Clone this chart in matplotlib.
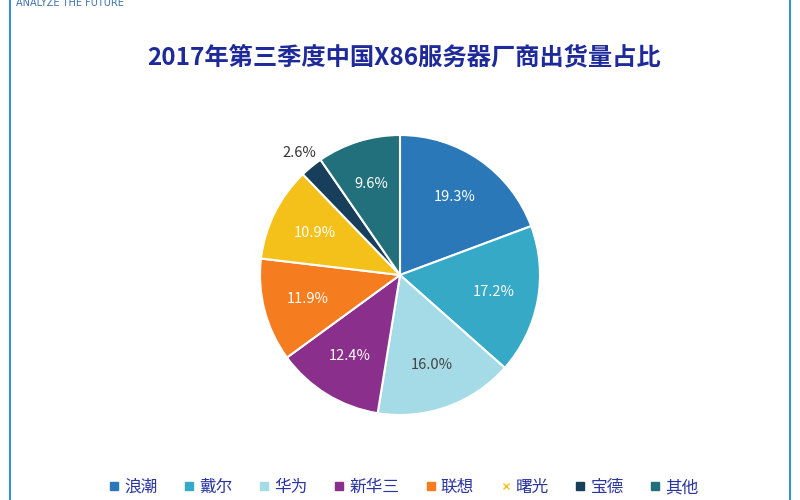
import numpy as np
import matplotlib.pyplot as plt
from matplotlib.lines import Line2D

plt.rcParams['font.family'] = 'sans-serif'
plt.rcParams['font.sans-serif'] = ['Noto Sans CJK SC', 'Noto Sans CJK JP', 'DejaVu Sans']

vendors = ['浪潮', '戴尔', '华为', '新华三', '联想', '曙光', '宝德', '其他']
shares = [19.3, 17.2, 16.0, 12.4, 11.9, 10.9, 2.6, 9.6]
colors = ['#2a78b8', '#35a9c6', '#a5dbe6', '#8b2f8c', '#f57c1f', '#f4c01a', '#173e5a', '#21707c']

fig = plt.figure(figsize=(8, 5), dpi=100)
fig.patch.set_facecolor('white')

# frame lines at left/right edge
fig.add_artist(Line2D([0.012, 0.012], [0, 1], color='#3a8fd0', lw=1.5))
fig.add_artist(Line2D([0.988, 0.988], [0, 1], color='#3a8fd0', lw=1.5))
fig.text(0.02, 0.993, 'ANALYZE THE FUTURE', color='#3a70b0', fontsize=7, va='center',
         family='DejaVu Sans')

fig.text(0.505, 0.885, '2017年第三季度中国X86服务器厂商出货量占比', ha='center', va='center',
         fontsize=17.5, fontweight='bold', color='#1f2a9a')

ax = fig.add_axes([0.5 - 0.219, 0.45 - 0.35, 0.438, 0.70])
wedges, texts = ax.pie(shares, colors=colors, startangle=90, counterclock=False,
                       wedgeprops=dict(edgecolor='white', linewidth=1.5))
ax.set_aspect('equal')
for i, w in enumerate(wedges):
    ang = np.deg2rad((w.theta1 + w.theta2) / 2)
    r = 1.13 if shares[i] < 5 else 0.68
    c = '#333333' if shares[i] < 5 else ('#444444' if colors[i] == '#a5dbe6' else 'white')
    ax.text(r * np.cos(ang), r * np.sin(ang), f'{shares[i]}%', ha='center', va='center',
            fontsize=10.5, color=c)

handles = []
for v, c in zip(vendors, colors):
    if v == '曙光':
        handles.append(Line2D([], [], marker='x', ls='', color=c, markersize=5, label=v))
    else:
        handles.append(Line2D([], [], marker='s', ls='', color=c, markersize=6, label=v))
fig.legend(handles=handles, loc='center', bbox_to_anchor=(0.505, 0.025), ncol=8, frameon=False,
           fontsize=12, handlelength=0.6, handletextpad=0.3, columnspacing=1.6,
           labelcolor='#2a35a0')

fig.savefig('out.png', dpi=100)
